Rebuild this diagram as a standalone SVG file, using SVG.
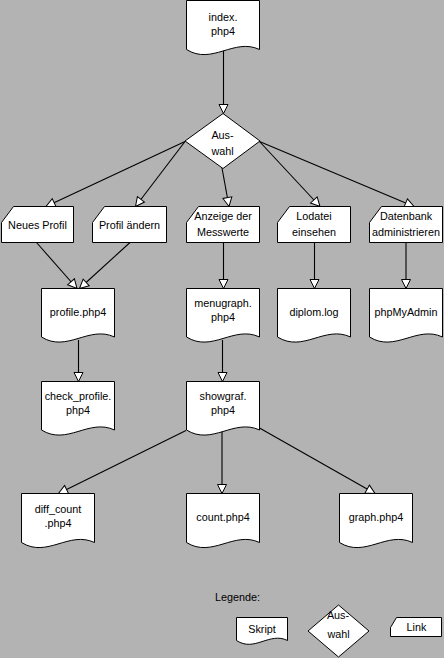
<svg xmlns="http://www.w3.org/2000/svg" width="444" height="658" viewBox="0 0 444 658">
<style>
.bg{fill:#b3b3b3}
.n{fill:#fff;stroke:#000;stroke-width:1}
.c{fill:none;stroke:#000;stroke-width:1.1;marker-end:url(#ah)}
text{font-family:"Liberation Sans",Arial,sans-serif;font-size:10.8px;fill:#000;text-anchor:middle}
</style>
<defs>
<marker id="ah" viewBox="0 0 10 10" markerUnits="userSpaceOnUse" markerWidth="10" markerHeight="10" refX="9.5" refY="5" orient="auto" overflow="visible">
<path d="M0.5,0.5 L9.5,5 L0.5,9.5 Z" fill="#fff" stroke="#000" stroke-width="1"/>
</marker>
</defs>
<rect class="bg" x="0" y="0" width="444" height="658"/>
<g id="connectors">
<path class="c" d="M223.5,50 V113.5"/>
<path class="c" d="M185,141.5 L46,206.5"/>
<path class="c" d="M185,141.5 L135.5,206.5"/>
<path class="c" d="M222,168 L229,206.5"/>
<path class="c" d="M259.5,141.5 L320,206.5"/>
<path class="c" d="M259.5,141.5 L414,206.5"/>
<path class="c" d="M36.5,242.5 L77,288.5"/>
<path class="c" d="M130,242.5 L79.5,288.5"/>
<path class="c" d="M223.5,242.5 V288.5"/>
<path class="c" d="M314.5,242.5 V288.5"/>
<path class="c" d="M406,242.5 V288.5"/>
<path class="c" d="M78.5,340 V381.5"/>
<path class="c" d="M222.5,340 V381.5"/>
<path class="c" d="M186,430.5 L58.5,493.5"/>
<path class="c" d="M222,432 V493.5"/>
<path class="c" d="M259.5,428 L375,493.5"/>
</g>
<g id="index">
<path class="n" d="M186.5,0.5 H259.5 V49.5 C234,37.5 212,65.5 186.5,49.5 Z"/>
<text x="223" y="20.5">index.</text><text x="223" y="35">php4</text>
</g>
<g id="auswahl">
<path class="n" d="M223,113.5 L260,141 L223,168.5 L185,141 Z"/>
<text x="222.5" y="138.5">Aus-</text><text x="222.5" y="154.5">wahl</text>
</g>
<g id="neues-profil">
<path class="n" d="M1.5,222.5 L13.5,206.5 H73.5 V242.5 H1.5 Z"/>
<text x="37.5" y="229">Neues Profil</text>
</g>
<g id="profil-aendern">
<path class="n" d="M92.5,222.5 L104.5,206.5 H166.5 V242.5 H92.5 Z"/>
<text x="129.5" y="229">Profil ändern</text>
</g>
<g id="anzeige">
<path class="n" d="M186.5,222.5 L198.5,206.5 H259.5 V242.5 H186.5 Z"/>
<text x="223" y="219.5">Anzeige der</text><text x="223" y="235.5">Messwerte</text>
</g>
<g id="lodatei">
<path class="n" d="M277.5,222.5 L289.5,206.5 H350.5 V242.5 H277.5 Z"/>
<text x="314" y="219.5">Lodatei</text><text x="314" y="235.5">einsehen</text>
</g>
<g id="datenbank">
<path class="n" d="M369.5,222.5 L381.5,206.5 H442.5 V242.5 H369.5 Z"/>
<text x="406" y="219.5">Datenbank</text><text x="406" y="235.5">administrieren</text>
</g>
<g id="profile">
<path class="n" d="M41.5,288.5 H114.5 V337 C89,325 67,353 41.5,337 Z"/>
<text x="78" y="316">profile.php4</text>
</g>
<g id="menugraph">
<path class="n" d="M186.5,288.5 H259.5 V337 C234,325 212,353 186.5,337 Z"/>
<text x="223" y="306.5">menugraph.</text><text x="223" y="321">php4</text>
</g>
<g id="diplom">
<path class="n" d="M277.5,288.5 H350.5 V337 C325,325 303,353 277.5,337 Z"/>
<text x="314" y="316">diplom.log</text>
</g>
<g id="phpmyadmin">
<path class="n" d="M369.5,288.5 H442.5 V337 C417,325 395,353 369.5,337 Z"/>
<text x="406" y="316">phpMyAdmin</text>
</g>
<g id="check-profile">
<path class="n" d="M41.5,381.5 H114.5 V430 C89,418 67,446 41.5,430 Z"/>
<text x="78" y="399.5">check_profile.</text><text x="78" y="414">php4</text>
</g>
<g id="showgraf">
<path class="n" d="M186.5,381.5 H259.5 V430 C234,418 212,446 186.5,430 Z"/>
<text x="223" y="399.5">showgraf.</text><text x="223" y="414">php4</text>
</g>
<g id="diff-count">
<path class="n" d="M21.5,493.5 H94.5 V542.5 C69,530.5 47,558.5 21.5,542.5 Z"/>
<text x="58" y="513">diff_count</text><text x="58" y="526.5">.php4</text>
</g>
<g id="count">
<path class="n" d="M186.5,493.5 H259.5 V542.5 C234,530.5 212,558.5 186.5,542.5 Z"/>
<text x="223" y="520.5">count.php4</text>
</g>
<g id="graph">
<path class="n" d="M339.5,493.5 H412.5 V542.5 C387,530.5 365,558.5 339.5,542.5 Z"/>
<text x="376" y="520.5">graph.php4</text>
</g>
<g id="legend">
<text x="215" y="600.5" style="text-anchor:start">Legende:</text>
<g id="legend-skript">
<path class="n" d="M236.5,617.5 H287.5 V640.5 C269.5,631.5 254.5,652.5 236.5,640.5 Z"/>
<text x="262" y="633">Skript</text>
</g>
<g id="legend-auswahl">
<path class="n" d="M338.5,605 L369,631 L338.5,657 L308,631 Z"/>
<text x="338" y="618.5">Aus-</text><text x="338.5" y="637.5">wahl</text>
</g>
<g id="legend-link">
<path class="n" d="M390.5,627.5 L396.5,617.5 H441.5 V636.5 H390.5 Z"/>
<text x="416.5" y="630.5">Link</text>
</g>
</g>
</svg>
